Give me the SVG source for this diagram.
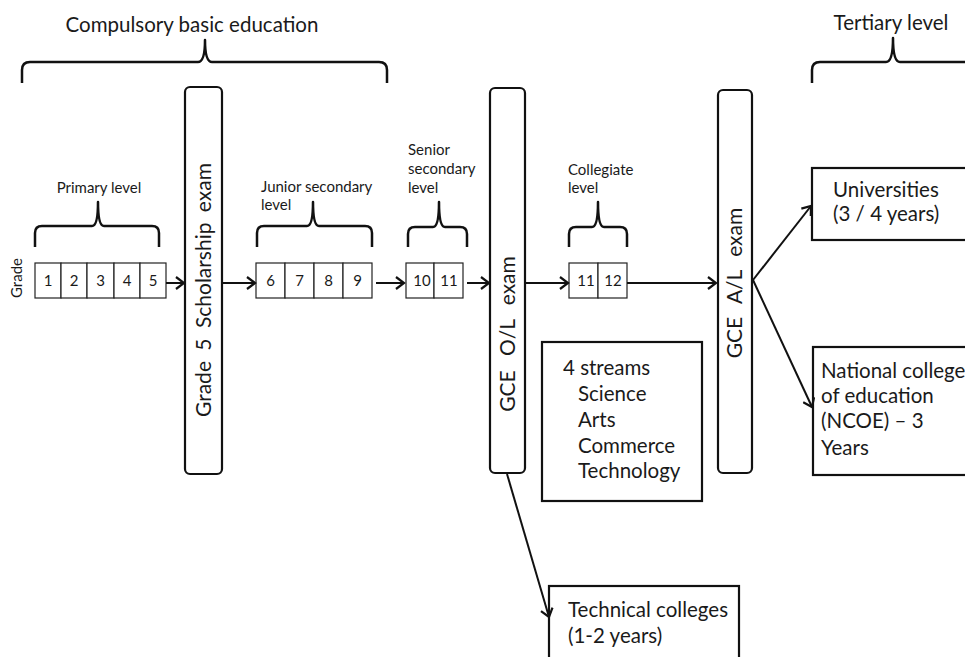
<svg xmlns="http://www.w3.org/2000/svg" width="965" height="657" viewBox="0 0 965 657">
<defs>
<style>
.t{font-family:Lato,"Liberation Sans",sans-serif;fill:#1a1a1a}
.s{font-size:15px}
.m{font-size:20.5px}
.b{fill:none;stroke:#111;stroke-width:2.5;stroke-linejoin:round}
.exam{fill:#fff;stroke:#111;stroke-width:2.2}
.cell{fill:#fff;stroke:#222;stroke-width:1.2}
.box{fill:#fff;stroke:#111;stroke-width:2.2}
.c{fill:none;stroke:#111;stroke-width:2;marker-end:url(#ah)}
</style>
<marker id="ah" markerUnits="userSpaceOnUse" markerWidth="14" markerHeight="14" refX="11" refY="7" orient="auto">
<path d="M3,1 L11,7 L3,13" fill="none" stroke="#111" stroke-width="2.2"/>
</marker>
</defs>
<rect width="965" height="657" fill="#fff"/>

<g id="compulsory">
<text class="t m" x="192" y="32" text-anchor="middle">Compulsory basic education</text>
<path class="b" d="M22,83 L22,70 Q22,62 30,62 L198,62 Q205,62 205,40 Q205,62 212,62 L379,62 Q387,62 387,70 L387,83"/>
</g>
<g id="tertiary">
<text class="t m" x="891" y="30" text-anchor="middle">Tertiary level</text>
<path class="b" d="M812,83 L812,70 Q812,62 820,62 L886,62 Q893,62 893,38 Q893,62 900,62 L970,62"/>
</g>

<g id="grade-label"><text class="t s" text-anchor="middle" transform="translate(22,278) rotate(-90)">Grade</text></g>

<g id="primary">
<text class="t s" x="99" y="193" text-anchor="middle">Primary level</text>
<path class="b" d="M35,247 L35,233 Q35,226 42,226 L92,226 Q98,226 98,202 Q98,226 104,226 L152,226 Q159,226 159,233 L159,247"/>
<rect class="cell" x="35" y="263" width="26" height="35"/>
<rect class="cell" x="61" y="263" width="26" height="35"/>
<rect class="cell" x="87" y="263" width="27" height="35"/>
<rect class="cell" x="114" y="263" width="26" height="35"/>
<rect class="cell" x="140" y="263" width="26" height="35"/>
<g class="t s" text-anchor="middle">
<text x="48" y="286">1</text><text x="74" y="286">2</text><text x="100.5" y="286">3</text><text x="127" y="286">4</text><text x="153" y="286">5</text>
</g>
</g>

<g id="scholarship">
<rect class="exam" x="185" y="87" width="37" height="387" rx="5"/>
<text class="t" font-size="21" text-anchor="middle" word-spacing="5" transform="translate(211,290) rotate(-90)">Grade 5 Scholarship exam</text>
</g>

<g id="junior">
<text class="t s" x="261" y="192">Junior secondary</text>
<text class="t s" x="261" y="210">level</text>
<path class="b" d="M257,247 L257,233 Q257,226 264,226 L307,226 Q313,226 313,202 Q313,226 319,226 L365,226 Q372,226 372,233 L372,247"/>
<rect class="cell" x="256" y="263" width="29" height="35"/>
<rect class="cell" x="285" y="263" width="29" height="35"/>
<rect class="cell" x="314" y="263" width="29" height="35"/>
<rect class="cell" x="343" y="263" width="29" height="35"/>
<g class="t s" text-anchor="middle">
<text x="270.5" y="286">6</text><text x="299.5" y="286">7</text><text x="328.5" y="286">8</text><text x="357.5" y="286">9</text>
</g>
</g>

<g id="senior">
<text class="t s" x="408" y="155">Senior</text>
<text class="t s" x="408" y="174">secondary</text>
<text class="t s" x="408" y="193">level</text>
<path class="b" d="M408,247 L408,234 Q408,227 415,227 L433,227 Q439,227 439,202 Q439,227 445,227 L460,227 Q467,227 467,234 L467,247"/>
<rect class="cell" x="406" y="263" width="28" height="35"/>
<rect class="cell" x="434" y="263" width="29" height="35"/>
<g class="t s" text-anchor="middle">
<text x="422" y="286">10</text><text x="449" y="286">11</text>
</g>
</g>

<g id="gce-ol">
<rect class="exam" x="490" y="88" width="35" height="385" rx="5"/>
<text class="t" font-size="21" text-anchor="middle" word-spacing="9" transform="translate(515,334) rotate(-90)">GCE O/L exam</text>
</g>

<g id="collegiate">
<text class="t s" x="568" y="175">Collegiate</text>
<text class="t s" x="568" y="193">level</text>
<path class="b" d="M569,247 L569,234 Q569,227 576,227 L592,227 Q598,227 598,202 Q598,227 604,227 L620,227 Q627,227 627,234 L627,247"/>
<rect class="cell" x="569" y="263" width="29" height="35"/>
<rect class="cell" x="598" y="263" width="29" height="35"/>
<g class="t s" text-anchor="middle">
<text x="586" y="286">11</text><text x="613" y="286">12</text>
</g>
</g>

<g id="streams">
<rect class="box" x="542" y="342" width="160" height="159"/>
<g class="t m">
<text x="563" y="375">4 streams</text>
<text x="578" y="401">Science</text>
<text x="578" y="427">Arts</text>
<text x="578" y="453">Commerce</text>
<text x="578" y="478">Technology</text>
</g>
</g>

<g id="gce-al">
<rect class="exam" x="718" y="90" width="34" height="383" rx="5"/>
<text class="t" font-size="21" text-anchor="middle" word-spacing="8" transform="translate(742,283) rotate(-90)">GCE A/L exam</text>
</g>

<g id="universities">
<rect class="box" x="812" y="168" width="160" height="72"/>
<text class="t m" x="833" y="197">Universities</text>
<text class="t m" x="833" y="221">(3 / 4 years)</text>
</g>

<g id="ncoe">
<rect class="box" x="813" y="347" width="160" height="128"/>
<g class="t m">
<text x="821" y="378">National college</text>
<text x="821" y="403">of education</text>
<text x="821" y="428">(NCOE) – 3</text>
<text x="821" y="455">Years</text>
</g>
</g>

<g id="technical">
<rect class="box" x="549" y="586" width="190" height="80"/>
<text class="t m" x="568" y="617">Technical colleges</text>
<text class="t m" x="568" y="643">(1-2 years)</text>
</g>

<g id="connectors">
<path class="c" d="M166,283 L184,283"/>
<path class="c" d="M222,283 L255,283"/>
<path class="c" d="M376,283 L404,283"/>
<path class="c" d="M467,283 L489,283"/>
<path class="c" d="M525,283 L568,283"/>
<path class="c" d="M627,283 L716,283"/>
<path class="c" d="M753,280 L811,206"/>
<path class="c" d="M753,280 L812,407"/>
<path class="c" d="M507,474 L549,617"/>
</g>
</svg>
